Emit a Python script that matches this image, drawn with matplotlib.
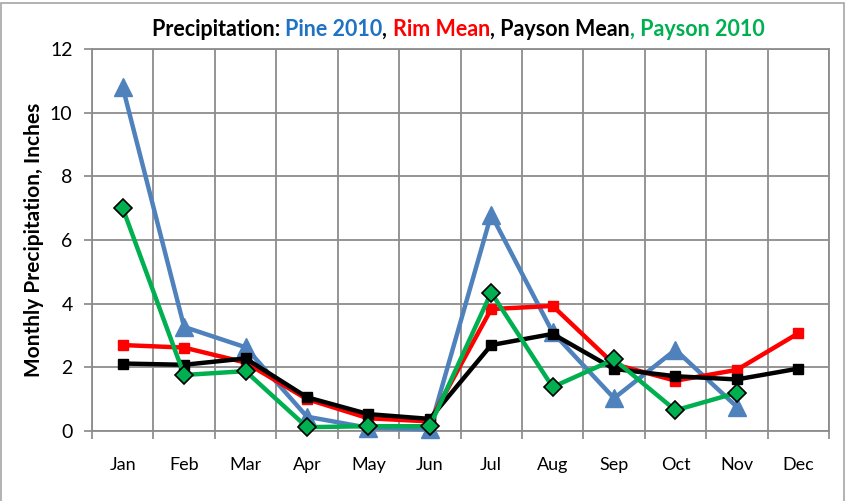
import numpy as np
import matplotlib.pyplot as plt
from matplotlib.patches import Rectangle

plt.rcParams['font.family'] = ['Lato', 'DejaVu Sans']

# monthly precipitation, inches
months = ['Jan', 'Feb', 'Mar', 'Apr', 'May', 'Jun', 'Jul', 'Aug', 'Sep', 'Oct', 'Nov', 'Dec']
pine_2010 = [10.8, 3.27, 2.63, 0.45, 0.1, 0.05, 6.8, 3.1, 1.03, 2.55, 0.76, np.nan]
rim_mean = [2.7, 2.62, 2.15, 1.0, 0.4, 0.3, 3.83, 3.93, 2.1, 1.58, 1.92, 3.07]
payson_mean = [2.12, 2.08, 2.28, 1.06, 0.53, 0.38, 2.7, 3.05, 1.95, 1.72, 1.62, 1.96]
payson_2010 = [7.0, 1.76, 1.88, 0.12, 0.15, 0.15, 4.35, 1.38, 2.25, 0.65, 1.2, np.nan]

title_parts = [('Precipitation: ', 'black'), ('Pine 2010', '#1f72c4'), (', ', 'black'),
               ('Rim Mean', '#ff0000'), (', Payson Mean', 'black'), (', Payson 2010', '#00b050')]

x = np.arange(1, 13)

fig = plt.figure(figsize=(8.46, 5.01), dpi=100)
ax = fig.add_axes([92/846, 70/501, 737/846, 382/501])

# outer chart frame
fig.patches.append(Rectangle((1/846, -0.02), 843/846, 0.02 + 498/501, transform=fig.transFigure,
                             fill=False, edgecolor='#a6a6a6', linewidth=1.2))

ax.plot(x, pine_2010, color='#4f81bd', lw=3.2, marker='^', ms=13, zorder=3, clip_on=False)
ax.plot(x, rim_mean, color='#ff0000', lw=3.2, marker='s', ms=7, zorder=4, clip_on=False)
ax.plot(x, payson_mean, color='black', lw=3.2, marker='s', ms=7, zorder=5, clip_on=False)
ax.plot(x, payson_2010, color='#00b050', lw=3.2, marker='D', ms=9, mfc='#00b050',
        mec='black', mew=1.2, zorder=6, clip_on=False)

ax.set_xlim(0.5, 12.5)
ax.set_ylim(0, 12)
ax.set_yticks(range(0, 13, 2))
ax.set_xticks(np.arange(0.5, 13, 1))
ax.set_xticklabels([])
ax.set_xticks(x, minor=True)
ax.set_xticklabels(months, minor=True)
ax.tick_params(axis='x', which='minor', length=0, pad=19, labelsize=13)
ax.tick_params(axis='x', which='major', length=6, color='#868686', width=1.2)
ax.tick_params(axis='y', length=6, color='#868686', width=1.2, labelsize=14, pad=8)

ax.grid(True, which='major', color='#8c8c8c', lw=1.3)
ax.set_axisbelow(True)
for s in ax.spines.values():
    s.set_color('#8c8c8c')
    s.set_linewidth(1.3)

ax.set_ylabel('Monthly Precipitation, Inches', fontsize=15, fontweight='bold', labelpad=4)

# multi-coloured title, centred over the plot
fig.canvas.draw()
renderer = fig.canvas.get_renderer()
texts = []
for s, c in title_parts:
    t = fig.text(0, 1 - 29/501, s, color=c, fontsize=15.5, fontweight='bold', va='center', ha='left')
    texts.append(t)
widths = [t.get_window_extent(renderer).width for t in texts]
total = sum(widths)
pos = 458 - total / 2
for t, w in zip(texts, widths):
    t.set_x(pos / 846)
    pos += w

fig.savefig('out.png', dpi=100)
